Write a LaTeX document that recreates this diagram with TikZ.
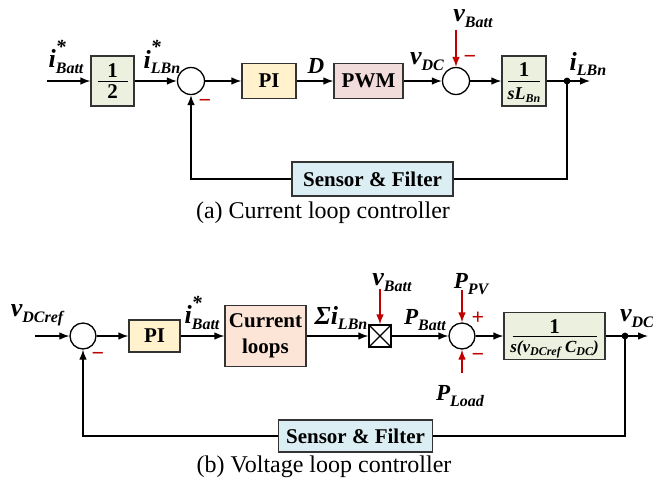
\documentclass[tikz,border=0pt]{standalone}
\usepackage{fontspec}
\setmainfont{Liberation Serif}
\usetikzlibrary{arrows.meta}
\definecolor{redA}{HTML}{C00000}
\definecolor{gfill}{HTML}{EBF1DE}
\definecolor{yfill}{HTML}{FFF2CC}
\definecolor{pfill}{HTML}{F2DCDB}
\definecolor{ofill}{HTML}{FCE4D6}
\definecolor{bfill}{HTML}{DAEEF3}
\newcommand{\Lb}[2]{{\bfseries\itshape #1\raisebox{-0.5ex}{\fontsize{8}{8}\selectfont #2}}}
\newcommand{\Ls}[2]{{\bfseries\itshape #1\rlap{\raisebox{1.25ex}{\smash{\fontsize{10}{10}\selectfont *}}}\raisebox{-0.5ex}{\fontsize{8}{8}\selectfont #2}}}
\newcommand{\Lsm}[2]{{\bfseries\itshape #1\raisebox{-0.4ex}{\fontsize{6}{6}\selectfont #2}}}
\begin{document}
\begin{tikzpicture}[x=0.5pt,y=-0.5pt,
  ln/.style={line width=0.65pt},
  arr/.style={line width=0.65pt,-{Latex[length=5pt,width=3.8pt]}},
  rarr/.style={arr,draw=redA,-{Latex[length=5pt,width=3.8pt]},color=redA},
  blk/.style={draw=black!80,line width=0.65pt,inner sep=0pt,font=\fontsize{10.5}{13}\selectfont\bfseries},
  sumc/.style={circle,draw,line width=0.65pt,minimum size=13.5pt,inner sep=0pt,fill=white},
  lab/.style={font=\fontsize{13}{14}\selectfont,inner sep=0pt},
  labP/.style={font=\fontsize{11.5}{13}\selectfont,inner sep=0pt},
  sgn/.style={text=redA,font=\fontsize{11}{12}\selectfont\bfseries,inner sep=0pt},
  frc/.style={font=\fontsize{10.5}{12}\selectfont\bfseries,inner sep=0pt},
  bar/.style={line width=0.5pt}]
\useasboundingbox (0,0) rectangle (653,484);

% ---------- (a) current loop ----------
\coordinate (in1) at (47,81);
\node[blk,fill=gfill,minimum width=21.5pt,minimum height=25pt] (half) at (112.5,81) {};
\node[sumc] (s1) at (191,81) {};
\node[blk,fill=yfill,minimum width=27pt,minimum height=17.5pt] (pi1) at (269,81) {PI};
\node[blk,fill=pfill,minimum width=34.5pt,minimum height=17.5pt] (pwm) at (368.5,81) {PWM};
\node[sumc] (s2) at (456,81) {};
\node[blk,fill=gfill,minimum width=22pt,minimum height=25pt] (g1) at (524,81) {};
\coordinate (d1) at (567,81);
\coordinate (o1) at (590,81);
\node[blk,fill=bfill,minimum width=80.5pt,minimum height=17pt] (sf1) at (372.5,179) {Sensor \& Filter};
\coordinate (c1a) at (567,179);
\coordinate (c1b) at (191,179);
\coordinate (vb1) at (456,30);

\draw[bar] ([xshift=-7.5pt]half.center) -- ([xshift=7.5pt]half.center);
\node[frc] (h1n) at ([yshift=5pt]half.center) {1};
\node[frc] (h1d) at ([yshift=-5.5pt]half.center) {2};
\draw[bar] ([xshift=-8pt]g1.center) -- ([xshift=8pt]g1.center);
\node[frc] (g1n) at ([yshift=5.5pt]g1.center) {1};
\node[inner sep=0pt,font=\fontsize{9}{10}\selectfont] (g1d) at ([yshift=-7pt]g1.center) {\Lsm{sL}{Bn}};

\draw[arr] (in1) -- (half);
\draw[arr] (half) -- (s1);
\draw[arr] (s1) -- (pi1);
\draw[arr] (pi1) -- (pwm);
\draw[arr] (pwm) -- (s2);
\draw[arr] (s2) -- (g1);
\draw[arr] (g1) -- (o1);
\fill (d1) circle (1.7pt);
\draw[ln] (d1) -- (c1a) -- (sf1);
\draw[arr] (sf1) -- (c1b) -- (s1);
\draw[rarr] (vb1) -- (s2);

\node[lab] (l1) at (66,62) {\Ls{i}{Batt}};
\node[lab] (l2) at (162,62) {\Ls{i}{LBn}};
\node[labP] (l3) at (316,66) {\textbf{\textit{D}}};
\node[lab] (l4) at (427,62) {\Lb{v}{DC}};
\node[lab] (l5) at (473,19) {\Lb{v}{Batt}};
\node[lab] (l6) at (588,64) {\Lb{i}{LBn}};
\node[sgn] (m1) at (205,103) {−};
\node[sgn] (m2) at (470,59) {−};
\node[font=\fontsize{12}{14}\selectfont,inner sep=0pt] (capa) at (323,213) {(a) Current loop controller};

% ---------- (b) voltage loop ----------
\coordinate (in2) at (35,336);
\node[sumc,minimum size=13pt] (s3) at (83,336) {};
\node[blk,fill=yfill,minimum width=25.5pt,minimum height=16pt] (pi2) at (154.5,336) {PI};
\node[blk,fill=ofill,minimum width=40.5pt,minimum height=30.5pt,align=center] (cl) at (265.5,336) {Current\\loops};
\node[draw,fill=white,line width=0.65pt,minimum size=11pt,inner sep=0pt] (mx) at (380,336) {};
\node[sumc,minimum size=13pt] (s4) at (462,336) {};
\node[blk,fill=gfill,minimum width=50.5pt,minimum height=23.5pt] (g2) at (554.5,336) {};
\coordinate (d2) at (625,336);
\coordinate (o2) at (648,336);
\node[blk,fill=bfill,minimum width=77pt,minimum height=16pt] (sf2) at (355.5,436) {Sensor \& Filter};
\coordinate (c2a) at (625,436);
\coordinate (c2b) at (83,436);
\coordinate (vb2) at (380,289);
\coordinate (ppv) at (462,290);
\coordinate (pld) at (462,373);

\draw[ln] (mx.north west) -- (mx.south east) (mx.north east) -- (mx.south west);
\draw[bar] ([xshift=-21pt]g2.center) -- ([xshift=21pt]g2.center);
\node[frc] (g2n) at ([yshift=4.8pt]g2.center) {1};
\node[inner sep=0pt,font=\fontsize{8.5}{9}\selectfont\bfseries\itshape] (g2d) at ([yshift=-6.5pt]g2.center) {s(\Lsm{v}{DCref} \Lsm{C}{DC})};

\draw[arr] (in2) -- (s3);
\draw[arr] (s3) -- (pi2);
\draw[arr] (pi2) -- (cl);
\draw[arr] (cl) -- (mx);
\draw[arr] (mx) -- (s4);
\draw[arr] (s4) -- (g2);
\draw[arr] (g2) -- (o2);
\fill (d2) circle (1.7pt);
\draw[ln] (d2) -- (c2a) -- (sf2);
\draw[arr] (sf2) -- (c2b) -- (s3);
\draw[rarr] (vb2) -- (mx);
\draw[rarr] (ppv) -- (s4);
\draw[rarr] (pld) -- (s4);

\node[lab] (l7) at (37,315) {\Lb{v}{DCref}};
\node[lab] (l8) at (202,318) {\Ls{i}{Batt}};
\node[lab] (l9) at (341,318) {\Lb{Σi}{LBn}};
\node[lab] (l10) at (392,283) {\Lb{v}{Batt}};
\node[labP] (l11) at (425,320) {\Lb{P}{Batt}};
\node[labP] (l12) at (471,284) {\Lb{P}{PV}};
\node[labP] (l13) at (460,396) {\Lb{P}{Load}};
\node[lab] (l14) at (637,319) {\Lb{v}{DC}};
\node[sgn] (p4) at (478,318) {+};
\node[sgn] (m4) at (478,357) {−};
\node[sgn] (m3) at (98,356) {−};
\node[font=\fontsize{12}{14}\selectfont,inner sep=0pt] (capb) at (324,467) {(b) Voltage loop controller};
\end{tikzpicture}
\end{document}
